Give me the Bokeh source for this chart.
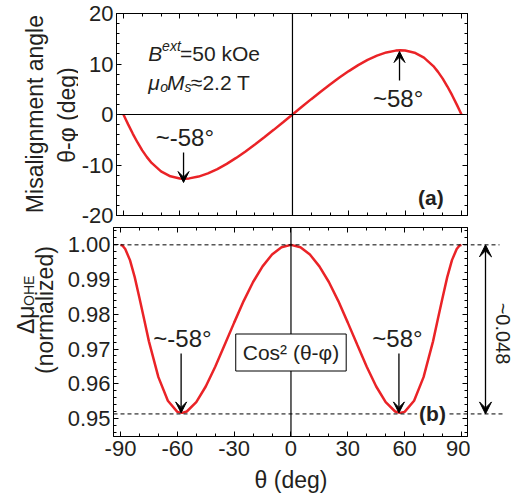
import math
from bokeh.plotting import figure
from bokeh.layouts import column, row
from bokeh.models import (Range1d, LinearAxis, FixedTicker, PrintfTickFormatter,
                          Span, Label, Arrow, VeeHead)
from bokeh.embed import file_html
from bokeh.resources import INLINE

# ---------------- data ----------------
theta = [-90, -89, -87.5, -85, -82.5, -80, -77.5, -75, -70, -65, -60, -57.5, -55, -50,
         -45, -40, -35, -30, -25, -20, -15, -10, -5, 0, 5, 10, 15, 20, 25, 30, 35, 40,
         45, 50, 55, 57.5, 60, 65, 70, 75, 77.5, 80, 82.5, 85, 87.5, 89, 90]
misalign = [0, -0.78, -1.95, -3.82, -5.54, -7.10, -8.44, -9.59, -11.26, -12.24, -12.67,
            -12.71, -12.65, -12.29, -11.66, -10.80, -9.77, -8.60, -7.32, -5.95, -4.52,
            -3.04, -1.53, 0, 1.53, 3.04, 4.52, 5.95, 7.32, 8.60, 9.77, 10.80, 11.66,
            12.29, 12.65, 12.71, 12.67, 12.24, 11.26, 9.59, 8.44, 7.10, 5.54, 3.82,
            1.95, 0.78, 0]
ohe = [1.0, 0.9998, 0.9988, 0.9956, 0.9907, 0.9847, 0.9785, 0.9722, 0.9619, 0.9551,
       0.9519, 0.9516, 0.9520, 0.9547, 0.9592, 0.9649, 0.9712, 0.9776, 0.9838, 0.9893,
       0.9938, 0.9972, 0.9993, 1.0, 0.9993, 0.9972, 0.9938, 0.9893, 0.9838, 0.9776,
       0.9712, 0.9649, 0.9592, 0.9547, 0.9520, 0.9516, 0.9519, 0.9551, 0.9619, 0.9722,
       0.9785, 0.9847, 0.9907, 0.9956, 0.9988, 0.9998, 1.0]

x_major = [-90, -60, -30, 0, 30, 60, 90]
x_minor = [-90, -80, -70, -60, -50, -40, -30, -20, -10, 0, 10, 20, 30, 40, 50, 60, 70, 80, 90]
top_major = [-20, -10, 0, 10, 20]
top_minor = [-20, -18, -16, -14, -12, -10, -8, -6, -4, -2, 0, 2, 4, 6, 8, 10, 12, 14, 16, 18, 20]
bot_major = [0.95, 0.96, 0.97, 0.98, 0.99, 1.00]
bot_minor = [0.946, 0.948, 0.95, 0.952, 0.954, 0.956, 0.958, 0.96, 0.962, 0.964, 0.966,
             0.968, 0.97, 0.972, 0.974, 0.976, 0.978, 0.98, 0.982, 0.984, 0.986, 0.988,
             0.99, 0.992, 0.994, 0.996, 0.998, 1.0, 1.002, 1.004]
ohe_max = 1.0
ohe_min = 0.9513
peak_theta = 58

FONT = "Liberation Sans"
TXT = "#231f20"
RED = "#ea2327"

# ---------------- geometry (page px; the Bokeh page has no margin) ----------------
X0, X1 = -93.7, 93.2
T0, T1 = -20, 20
B0, B1 = 0.9448, 1.0050
FL, FW = 113, 354           # main frame left / width
L1W, L2W = 78, 60           # widths of the left title strips
TT, TH = 13, 202            # top frame top / height
TOPH = 227                  # top row height
BT, BH = 227, 209           # bottom frame top / height
BOTB = 29                   # room for the x tick labels under the bottom frame
BOTH = BH + BOTB            # bottom row height
XTH = 494 - TOPH - BOTH     # height of the strip holding the x title
RX0 = 470                   # right strip starts here
RW = 513 - RX0


def dx(px):
    return X0 + (px - FL) * (X1 - X0) / FW


def ty(py):
    return T1 - (py - TT) * (T1 - T0) / TH


def by(py):
    return B1 - (py - BT) * (B1 - B0) / BH


xr = Range1d(X0, X1)


def style_axis(ax, major, minor, show_labels):
    ax.ticker = FixedTicker(ticks=major, minor_ticks=minor)
    ax.axis_line_color = "black"
    ax.axis_line_width = 1
    ax.major_tick_line_color = "black"
    ax.minor_tick_line_color = "black"
    ax.major_tick_in = 5
    ax.major_tick_out = 0
    ax.minor_tick_in = 3
    ax.minor_tick_out = 0
    if show_labels:
        ax.major_label_text_font = FONT
        ax.major_label_text_font_size = "22px"
        ax.major_label_text_color = TXT
    else:
        ax.major_label_text_font_size = "0px"
        ax.major_label_standoff = 0
        ax.major_label_text_color = None


def make_fig(width, yr, h, mbl, mbr, mbt, mbb):
    p = figure(width=width, height=h, x_range=xr, y_range=yr, output_backend="svg",
               toolbar_location=None, title=None, min_border_left=mbl,
               min_border_right=mbr, min_border_top=mbt, min_border_bottom=mbb)
    p.grid.visible = False
    p.outline_line_color = "black"
    p.background_fill_color = "white"
    p.border_fill_color = "white"
    p.add_layout(LinearAxis(), "right")
    p.add_layout(LinearAxis(), "above")
    return p


def strip(width, h, xrange_, yrange_, mbt=0, mbb=0):
    s = figure(width=width, height=h, x_range=xrange_, y_range=yrange_,
               output_backend="svg", toolbar_location=None, title=None,
               x_axis_type=None, y_axis_type=None, min_border_left=0,
               min_border_right=0, min_border_top=mbt, min_border_bottom=mbb)
    s.outline_line_color = None
    s.background_fill_color = "white"
    s.border_fill_color = "white"
    return s


def lab(p, x, y, text, size, **kw):
    opts = dict(text_font=FONT, text_font_size=size, text_color=TXT,
                text_align="center", text_baseline="middle")
    opts.update(kw)
    p.add_layout(Label(x=x, y=y, text=text, **opts))


def arrow(p, x0, y0, x1, y1, start=False, size=11):
    head = lambda: VeeHead(size=size, fill_color="black", line_color="black", line_width=1)
    p.add_layout(Arrow(x_start=x0, y_start=y0, x_end=x1, y_end=y1,
                       end=head(), start=head() if start else None,
                       line_color="black", line_width=1.3))


# ---------------- top panel ----------------
p1 = make_fig(513 - L1W, Range1d(T0, T1), TOPH, FL - L1W, 513 - FL - FW, TT, TOPH - TT - TH)
style_axis(p1.below[0], x_major, x_minor, False)
style_axis(p1.above[0], x_major, x_minor, False)
style_axis(p1.left[0], top_major, top_minor, True)
style_axis(p1.right[0], top_major, top_minor, False)
p1.left[0].major_label_standoff = 3
p1.left[0].major_label_overrides = {-10: "-10", -20: "-20"}

p1.add_layout(Span(location=0, dimension="width", line_color="black", line_width=1.2))
p1.add_layout(Span(location=0, dimension="height", line_color="black", line_width=1.2))
p1.line(theta, misalign, line_color=RED, line_width=2.5)

lab(p1, dx(182), ty(137), "~-58°", "24px")
arrow(p1, -peak_theta, ty(152), -peak_theta, ty(182))
lab(p1, dx(397), ty(98), "~58°", "24px")
arrow(p1, 57, ty(80), 57, ty(51))
lab(p1, dx(430), ty(197), "(a)", "21px", text_font_style="bold")

# B^ext = 50 kOe ; mu_o M_s ~ 2.2 T
lab(p1, dx(145), ty(53), "B", "21px", text_align="left", text_baseline="alphabetic",
    text_font_style="italic")
lab(p1, dx(159), ty(45), "ext", "14px", text_align="left", text_baseline="alphabetic",
    text_font_style="italic")
lab(p1, dx(177), ty(53), "=50 kOe", "21px", text_align="left", text_baseline="alphabetic")
lab(p1, dx(145), ty(82), "μ", "21px", text_align="left", text_baseline="alphabetic",
    text_font_style="italic")
lab(p1, dx(157), ty(86), "o", "14px", text_align="left", text_baseline="alphabetic",
    text_font_style="italic")
lab(p1, dx(164), ty(82), "M", "21px", text_align="left", text_baseline="alphabetic",
    text_font_style="italic")
lab(p1, dx(181.5), ty(86), "s", "14px", text_align="left", text_baseline="alphabetic",
    text_font_style="italic")
lab(p1, dx(188), ty(82), "≈2.2 T", "21px", text_align="left", text_baseline="alphabetic")

# left strip with the y title (coordinates = page px)
s1 = strip(L1W, TOPH, Range1d(0, L1W), Range1d(TOPH, 0))
lab(s1, 34, 113, "Misalignment angle", "23px", angle=math.pi / 2)
lab(s1, 66, 114, "θ-φ (deg)", "23px", angle=math.pi / 2)

# ---------------- bottom panel ----------------
yb = Range1d(B0, B1)
p2 = make_fig(RX0 - L2W, yb, BOTH, FL - L2W, RX0 - FL - FW, 0, BOTB)
style_axis(p2.below[0], x_major, x_minor, True)
style_axis(p2.above[0], x_major, x_minor, False)
style_axis(p2.left[0], bot_major, bot_minor, True)
style_axis(p2.right[0], bot_major, bot_minor, False)
p2.left[0].formatter = PrintfTickFormatter(format="%.2f")
p2.left[0].major_label_standoff = 3
p2.below[0].major_label_standoff = 4
p2.below[0].major_label_overrides = {-90: "-90", -60: "-60", -30: "-30"}

p2.add_layout(Span(location=0, dimension="height", line_color="black", line_width=1.2))
p2.add_layout(Span(location=ohe_max, dimension="width", line_color="black", line_width=1,
                   line_dash="4 3"))
p2.add_layout(Span(location=ohe_min, dimension="width", line_color="black", line_width=1,
                   line_dash="4 3"))
p2.line(theta, ohe, line_color=RED, line_width=2.5)

lab(p2, 0, by(352), "Cos² (θ-φ)", "21px", background_fill_color="white",
    border_line_color="black", border_line_width=1, padding=7)
lab(p2, dx(182), by(338), "~-58°", "24px")
arrow(p2, -peak_theta, by(353), -peak_theta, ohe_min + 0.0003)
lab(p2, dx(397), by(338), "~58°", "24px")
arrow(p2, 57, by(353), 57, ohe_min + 0.0003)
lab(p2, dx(432), by(413), "(b)", "21px", text_font_style="bold",
    background_fill_color="white", padding=2)

# left strip with the y title (coordinates = page px)
s2 = strip(L2W, BOTH, Range1d(0, L2W), Range1d(TOPH + BOTH, TOPH))
lab(s2, 44, 321, "(normalized)", "23px", angle=math.pi / 2)
lab(s2, 25, 332, "Δμ", "23px", angle=math.pi / 2)
lab(s2, 28, 299, "OHE", "14px", angle=math.pi / 2)

# right strip: continuation of the dashed lines, the span arrow and its value
r2 = strip(RW, BOTH, Range1d(RX0, 513), yb, mbt=0, mbb=BOTB)
r2.segment(x0=[RX0, RX0], y0=[ohe_max, ohe_min], x1=[499, 505], y1=[ohe_max, ohe_min],
           line_color="black", line_width=1, line_dash="4 3")
arrow(r2, 485, ohe_min, 485, ohe_max, start=True, size=12)
lab(r2, 502, by(333), "~0.048", "20px", angle=-math.pi / 2)

# bottom strip with the x title (coordinates = page px)
s3 = strip(513, XTH, Range1d(0, 513), Range1d(494, 494 - XTH))
lab(s3, FL + (0 - X0) * FW / (X1 - X0), 479, "θ (deg)", "23px")

layout = column(row(s1, p1, spacing=0), row(s2, p2, r2, spacing=0), s3, spacing=0)
open("out.html", "w").write(file_html(layout, INLINE))
